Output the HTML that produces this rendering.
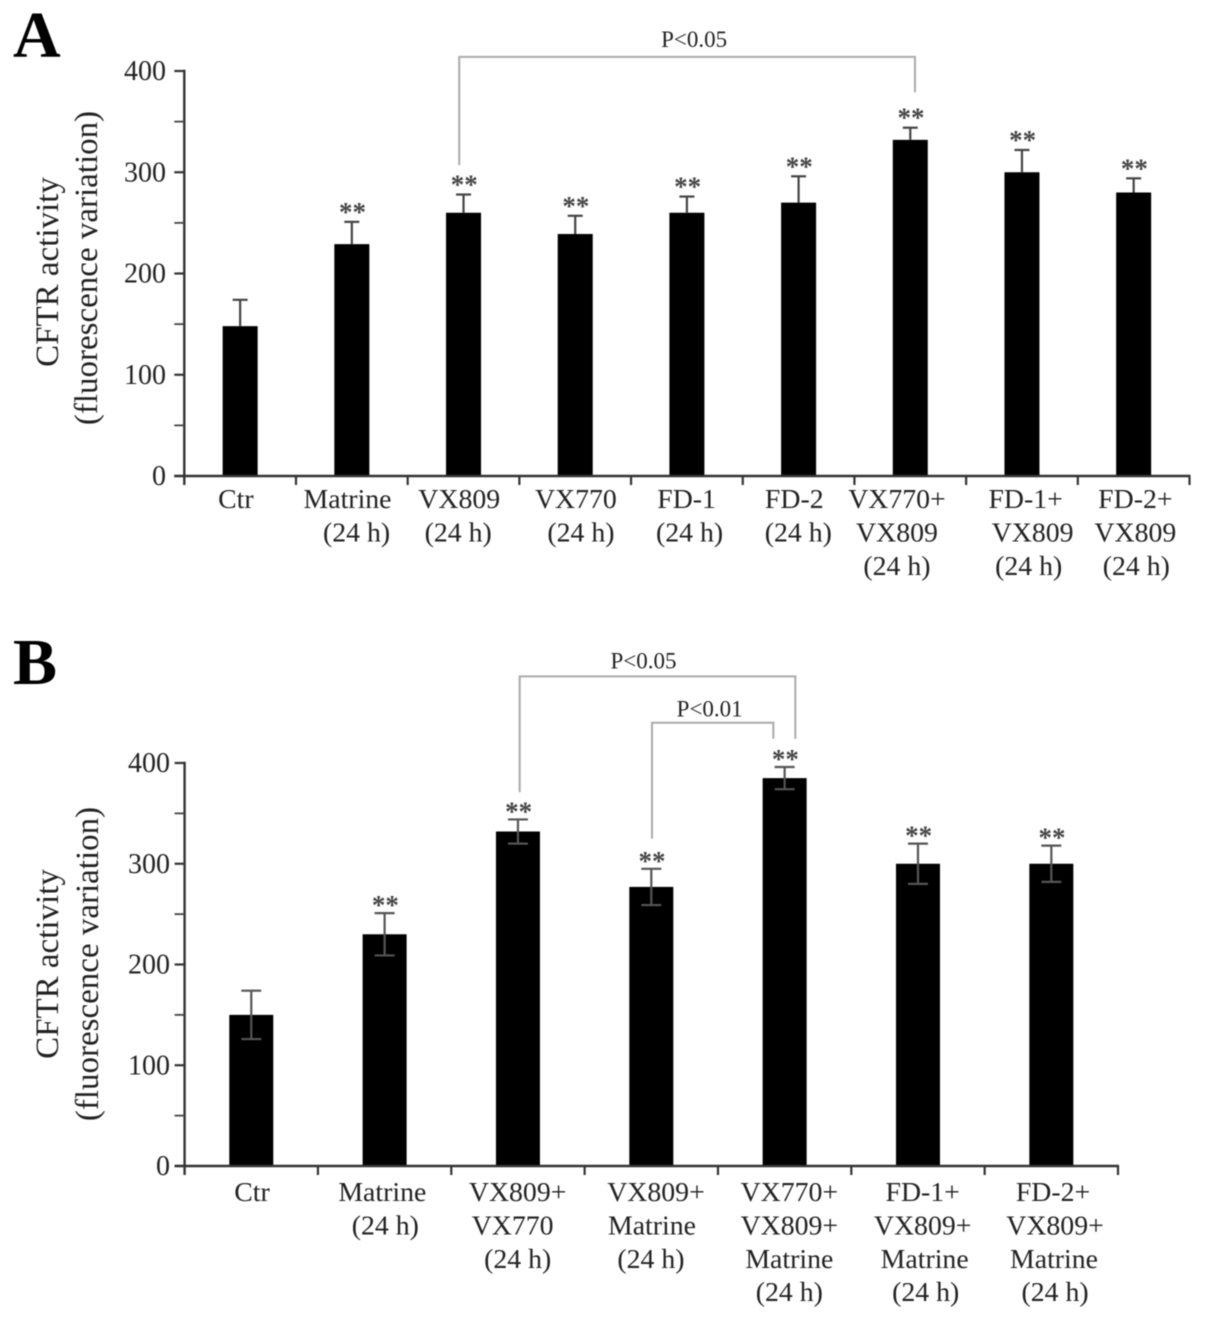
<!DOCTYPE html>
<html lang="en">
<head>
<meta charset="utf-8">
<title>CFTR activity charts</title>
<style>
html,body{margin:0;padding:0;background:#fff;}
body{width:1205px;height:1319px;overflow:hidden;}
svg{display:block;filter:blur(0.6px);}
text{font-family:"Liberation Serif",serif;}
</style>
</head>
<body>
<svg id="figure" width="1205" height="1319" viewBox="0 0 1205 1319" xmlns="http://www.w3.org/2000/svg">
<text x="13" y="57" font-size="66" font-weight="bold" fill="#000">A</text>
<text x="13" y="684" font-size="66" font-weight="bold" fill="#000">B</text>
</svg>
<script>
const tickLabels = [0, 100, 200, 300, 400];
const minorTicks = [50, 150, 250, 350];

const categoriesA = [["Ctr"],["Matrine","(24 h)"],["VX809","(24 h)"],["VX770","(24 h)"],["FD-1","(24 h)"],["FD-2","(24 h)"],["VX770+","VX809","(24 h)"],["FD-1+","VX809","(24 h)"],["FD-2+","VX809","(24 h)"]];
const valuesA = [148, 229, 260, 239, 260, 270, 332, 300, 280];
const errorsA = [26, 22, 18, 18, 16, 26, 12, 22, 14];
const starredA = [false, true, true, true, true, true, true, true, true];

const categoriesB = [["Ctr"],["Matrine","(24 h)"],["VX809+","VX770","(24 h)"],["VX809+","Matrine","(24 h)"],["VX770+","VX809+","Matrine","(24 h)"],["FD-1+","VX809+","Matrine","(24 h)"],["FD-2+","VX809+","Matrine","(24 h)"]];
const valuesB = [150, 230, 332, 277, 385, 300, 300];
const errorsB = [24, 21, 12, 18, 11, 20, 18];
const starredB = [false, true, true, true, true, true, true];

const bracketFromA = [2];
const bracketToA = [6];
const bracketTopA = [414];
const bracketFromEndA = [307];
const bracketToEndA = [379];
const bracketTextA = ["P<0.05"];

const bracketFromB = [2, 3];
const bracketToB = [4, 4];
const bracketTopB = [486, 440];
const bracketFromEndB = [371, 325];
const bracketToEndB = [424, 424];
const bracketTextB = ["P<0.05", "P<0.01"];

const NS = "http://www.w3.org/2000/svg";
const svg = document.getElementById("figure");

function make(tag, attrs, parent, text) {
  const el = document.createElementNS(NS, tag);
  for (const k in attrs) el.setAttribute(k, attrs[k]);
  if (text !== undefined) el.textContent = text;
  parent.appendChild(el);
  return el;
}

function drawPanel(p) {
  const n = p.categories.length;
  const step = (p.xEnd - p.xStart) / n;
  const xc = i => p.xStart + step * (i + 0.5);
  const y = v => p.y0 - (v / 400) * (p.y0 - p.y400);

  const group = make("g", {}, svg);
  
  

  p.values.forEach((v, i) => {
    const bar = make("rect", {x: xc(i) - p.barW / 2, y: y(v), width: p.barW, height: p.y0 - y(v), fill: "#000"}, group);
    
    

    const top = y(v + p.errors[i]);
    const bottom = p.twoSided ? y(v - p.errors[i]) : y(v);
    const stem = make("line", {x1: xc(i), x2: xc(i), y1: top, y2: bottom, stroke: p.errColor, "stroke-width": 2.2}, group);
    
    

    const cap = make("line", {x1: xc(i) - p.capW / 2, x2: xc(i) + p.capW / 2, y1: top, y2: top, stroke: p.errColor, "stroke-width": 2.2}, group);
    
    

    if (p.twoSided) {
      const low = make("line", {x1: xc(i) - p.capW / 2, x2: xc(i) + p.capW / 2, y1: bottom, y2: bottom, stroke: p.errColor, "stroke-width": 2.2}, group);
      
      
    }

    if (p.starred[i]) {
      const star = make("text", {x: xc(i) + 0.7, y: top + p.starLift, "text-anchor": "middle", "font-size": 27, "font-weight": "bold", fill: "#444"}, group, "**");
      
      
    }
  });

  const yAxis = make("line", {x1: p.xStart, x2: p.xStart, y1: y(400) - 1.2, y2: p.y0 + 9, stroke: "#333", "stroke-width": 2.4}, group);
  
  

  const xAxis = make("line", {x1: p.xStart - 10, x2: p.xEnd + 1, y1: p.y0, y2: p.y0, stroke: "#333", "stroke-width": 2.4}, group);
  
  

  tickLabels.forEach(t => {
    const tick = make("line", {x1: p.xStart - 10, x2: p.xStart, y1: y(t), y2: y(t), stroke: "#333", "stroke-width": 2.2}, group);
    
    

    const label = make("text", {x: p.tickLabelX, y: y(t) + 9, "text-anchor": "end", "font-size": 28, fill: "#222"}, group, String(t));
    
    
  });

  minorTicks.forEach(t => {
    const tick = make("line", {x1: p.xStart - 10, x2: p.xStart, y1: y(t), y2: y(t), stroke: "#444", "stroke-width": 1.8}, group);
    
    
  });

  for (let i = 1; i <= n; i++) {
    const tx = p.xStart + step * i;
    const tick = make("line", {x1: tx, x2: tx, y1: p.y0, y2: p.y0 + 9, stroke: "#333", "stroke-width": 2.2}, group);
    
    
  }

  p.categories.forEach((lines, i) => {
    lines.forEach((line, j) => {
      const label = make("text", {x: xc(i) + 0.7 + p.labelNudge[i][j], y: p.labelY + j * 33.4, "text-anchor": "middle", "font-size": 27.8, fill: "#222"}, group, line);
      
      
    });
  });

  [0, 1].forEach(k => {
    const title = make("text", {
      transform: "translate(" + p.titleX[k] + "," + p.titleY[k] + ") rotate(-90)",
      "text-anchor": "middle", "font-size": 33, fill: "#222"
    }, group, p.titles[k]);
    
    
  });

  p.bFrom.forEach((from, k) => {
    const x1 = xc(from) + 0.7 + p.bNudgeFrom[k];
    const x2 = xc(p.bTo[k]) + 0.7 + p.bNudgeTo[k];
    const d = "M" + x1 + " " + y(p.bFromEnd[k]) + "V" + y(p.bTop[k]) + "H" + x2 + "V" + y(p.bToEnd[k]);
    const bracket = make("path", {d: d, fill: "none", stroke: "#aaa", "stroke-width": 2}, group);
    
    

    const pl = make("text", {x: (x1 + x2) / 2 + p.bTextNudge[k], y: y(p.bTop[k]) - p.bTextLift[k], "text-anchor": "middle", "font-size": 23, fill: "#222"}, group, p.bText[k]);
    
    
  });
}

drawPanel({
  id: "panel-a", categories: categoriesA, values: valuesA, errors: errorsA, starred: starredA,
  xStart: 184.3, xEnd: 1189.5, y0: 476, y400: 71, barW: 35, capW: 15, twoSided: false, errColor: "#444",
  labelY: 508, titleX: [58, 97], titleY: [272, 268], tickLabelX: 166, starLift: -1,
  titles: ["CFTR activity", "(fluorescence variation)"],
  labelNudge: [[-5],[-5,4],[-5,-6],[0,5],[-1,2],[-5,-1],[-14,-14,-14],[3,10,6],[1,1,2]],
  bFrom: bracketFromA, bTo: bracketToA, bTop: bracketTopA, bFromEnd: bracketFromEndA, bToEnd: bracketToEndA, bText: bracketTextA,
  bNudgeFrom: [-5], bNudgeTo: [4], bTextNudge: [7], bTextLift: [10]
});

drawPanel({
  id: "panel-b", categories: categoriesB, values: valuesB, errors: errorsB, starred: starredB,
  xStart: 184.6, xEnd: 1118, y0: 1166, y400: 763, barW: 44, capW: 20, twoSided: true, errColor: "#555",
  labelY: 1201, titleX: [58, 98], titleY: [964, 964], tickLabelX: 170, starLift: 1,
  titles: ["CFTR activity", "(fluorescence variation)"],
  labelNudge: [[0],[-3,0],[-1,-6,-1],[4,0,-1],[4,4,4,4],[4,4,6,7],[1,3,2,3]],
  bFrom: bracketFromB, bTo: bracketToB, bTop: bracketTopB, bFromEnd: bracketFromEndB, bToEnd: bracketToEndB, bText: bracketTextB,
  bNudgeFrom: [1, 0], bNudgeTo: [10, -12], bTextNudge: [-14, -3], bTextLift: [8, 6]
});
</script>
</body>
</html>
